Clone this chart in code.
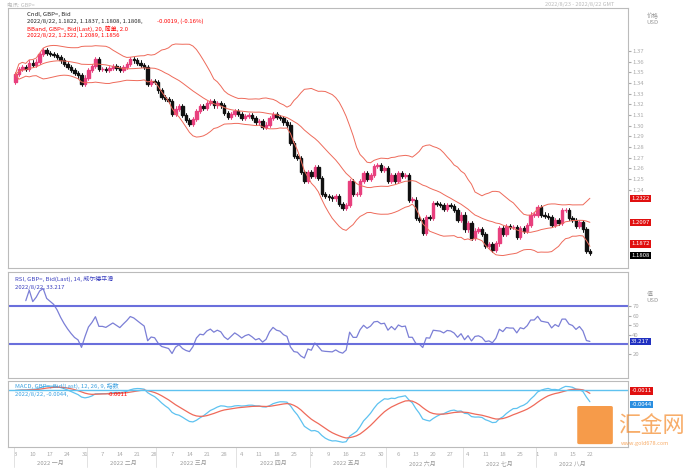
import numpy as np, pandas as pd, matplotlib
matplotlib.use("Agg")
import matplotlib.pyplot as plt, seaborn as sns
from matplotlib.patches import Rectangle, FancyBboxPatch

sns.set_style("white")
plt.rcParams['font.family'] = ['Noto Sans CJK SC', 'DejaVu Sans']

closes = [1.348,1.353,1.355,1.353,1.359,1.357,1.360,1.367,1.371,1.368,1.367,1.366,1.364,1.361,1.358,1.355,1.352,1.349,1.347,1.339,1.345,
          1.352,1.356,1.362,1.353,1.353,1.352,1.354,1.356,1.354,1.352,1.355,1.358,1.362,1.361,1.359,1.357,1.355,1.339,1.342,1.341,
          1.333,1.327,1.325,1.323,1.311,1.316,1.318,1.310,1.305,1.302,1.306,1.314,1.318,1.317,1.321,1.323,1.319,1.321,1.319,1.312,1.308,1.311,1.314,
          1.311,1.307,1.309,1.310,1.307,1.303,1.304,1.299,1.301,1.307,1.311,1.308,1.307,1.303,1.301,1.284,1.272,1.270,1.257,1.248,1.257,
          1.253,1.261,1.251,1.236,1.234,1.233,1.232,1.234,1.227,1.223,1.226,1.248,1.236,1.236,1.248,1.256,1.250,1.254,1.262,1.263,1.259,1.260,
          1.248,1.254,1.248,1.256,1.253,1.254,1.231,1.231,1.214,1.212,1.200,1.215,1.214,1.228,1.227,1.226,1.222,1.226,1.225,1.221,1.212,1.217,
          1.203,1.209,1.195,1.202,1.203,1.199,1.188,1.189,1.184,1.190,1.204,1.199,1.206,1.205,1.205,1.196,1.204,1.202,1.207,1.217,1.217,
          1.224,1.217,1.216,1.215,1.207,1.212,1.209,1.221,1.221,1.214,1.212,1.206,1.210,1.203,1.183,1.1808]
first_open = 1.341
month_labels = ["2022 一月","2022 二月","2022 三月","2022 四月","2022 五月","2022 六月","2022 七月","2022 八月"]
price_ticks = [1.24,1.25,1.26,1.27,1.28,1.29,1.30,1.31,1.32,1.33,1.34,1.35,1.36,1.37]
rsi_levels = [30, 70]

dates = pd.bdate_range("2022-01-03", "2022-08-22")
df = pd.DataFrame({"date": dates, "close": closes})
df["open"] = [first_open] + closes[:-1]
df["high"] = df[["open","close"]].max(axis=1) + 0.002
df["low"] = df[["open","close"]].min(axis=1) - 0.002
df["x"] = np.arange(len(df))
mid = df.close.rolling(20, min_periods=1).mean()
sd = df.close.rolling(20, min_periods=2).std().fillna(0)
df["mid"], df["up"], df["dn"] = mid, mid + 2*sd, mid - 2*sd
d = df.close.diff().fillna(0)
g = d.clip(lower=0).ewm(alpha=1/14).mean(); l = (-d.clip(upper=0)).ewm(alpha=1/14).mean()
df["rsi"] = 100 - 100/(1 + g/l.replace(0, 1e-9))
df.loc[:2, "rsi"] = np.nan
df["macd"] = df.close.ewm(span=12).mean() - df.close.ewm(span=26).mean()
df["sig"] = df.macd.ewm(span=9).mean()

fig = plt.figure(figsize=(6.98, 4.71), dpi=100)
L, R = 0.012, 0.9
ax1 = fig.add_axes([L, 0.431, R-L, 0.552])
ax2 = fig.add_axes([L, 0.197, R-L, 0.225])
ax3 = fig.add_axes([L, 0.05, R-L, 0.141])
xl = (-2, len(df)+10)
UP, DN, BB = "#e8407e", "#111111", "#ee6a5a"

for _, r in df.iterrows():
    c = UP if r.close >= r.open else DN
    ax1.plot([r.x, r.x], [r.low, r.high], color=c, lw=0.7)
    ax1.add_patch(Rectangle((r.x-0.35, min(r.open, r.close)), 0.7, max(abs(r.close-r.open), 0.0004), color=c))
for col in ["up", "mid", "dn"]:
    sns.lineplot(data=df, x="x", y=col, ax=ax1, color=BB, lw=0.7)
ax1.set_ylim(1.167, 1.41); ax1.set_xlim(*xl)
ax1.yaxis.tick_right(); ax1.set_yticks(price_ticks)
ax1.set_yticklabels([f"{t:.2f}" for t in price_ticks])
fs = 4.3
ax1.text(0.03, 0.985, "Cndl, GBP=, Bid", transform=ax1.transAxes, fontsize=fs, va="top")
ax1.text(0.03, 0.958, "2022/8/22, 1.1822, 1.1837, 1.1808, 1.1808,", transform=ax1.transAxes, fontsize=fs, va="top")
ax1.text(0.24, 0.958, "-0.0019, (-0.16%)", transform=ax1.transAxes, fontsize=fs, va="top", color="red")
ax1.text(0.03, 0.931, "BBand, GBP=, Bid(Last), 20, 简单, 2.0", transform=ax1.transAxes, fontsize=fs, va="top", color="red")
ax1.text(0.03, 0.904, "2022/8/22, 1.2322, 1.2089, 1.1856", transform=ax1.transAxes, fontsize=fs, va="top", color="red")
last = df.iloc[-1]
for v, fc, va in [(last.up, "#e01010", "center"), (last.mid, "#e01010", "center"), (last.dn, "#e01010", "bottom"), (last.close, "black", "top")]:
    ax1.text(1.005, v, f"{v:.4f}", transform=ax1.get_yaxis_transform(), fontsize=fs, color="white",
             va=va, bbox=dict(boxstyle="square,pad=0.2", fc=fc, ec="none"))
ax1.text(1.03, 0.94, "价格\nUSD", transform=ax1.transAxes, fontsize=fs, color="#999")

sns.lineplot(data=df, x="x", y="rsi", ax=ax2, color="#7b7fd6", lw=0.9)
for lv in rsi_levels:
    ax2.axhline(lv, color="#6a6fdc", lw=1.5)
ax2.set_ylim(-5, 105); ax2.set_xlim(*xl); ax2.yaxis.tick_right()
ax2.set_yticks([20, 40, 50, 60, 70])
ax2.text(0.01, 0.97, "RSI, GBP=, Bid(Last), 14, 威尔德平滑", transform=ax2.transAxes, fontsize=fs, va="top", color="#3a3fc0")
ax2.text(0.01, 0.88, f"2022/8/22, {last.rsi:.3f}", transform=ax2.transAxes, fontsize=fs, va="top", color="#3a3fc0")
ax2.text(1.005, last.rsi, f"{last.rsi:.3f}", transform=ax2.get_yaxis_transform(), fontsize=fs, color="white",
         va="center", bbox=dict(boxstyle="square,pad=0.2", fc="#2030c0", ec="none"))
ax2.text(1.03, 0.72, "值\nUSD", transform=ax2.transAxes, fontsize=fs, color="#999")

sns.lineplot(data=df, x="x", y="macd", ax=ax3, color="#5ec2f0", lw=0.9)
sns.lineplot(data=df, x="x", y="sig", ax=ax3, color="#ef6a5a", lw=0.9)
ax3.axhline(0, color="#5ec2f0", lw=1)
ax3.set_xlim(*xl); ax3.yaxis.tick_right(); ax3.set_yticks([])
ax3.set_ylim(df.macd.min()*1.1, df.macd.max()*2.2)
ax3.text(0.01, 0.97, "MACD, GBP=, Bid(Last), 12, 26, 9, 指数", transform=ax3.transAxes, fontsize=fs, va="top", color="#3aa0e0")
ax3.text(0.01, 0.84, f"2022/8/22, {last.macd:.4f},", transform=ax3.transAxes, fontsize=fs, va="top", color="#3aa0e0")
ax3.text(0.16, 0.84, f"{last.sig:.4f}", transform=ax3.transAxes, fontsize=fs, va="top", color="red")
ax3.text(1.005, last.sig, f"{last.sig:.4f}", transform=ax3.get_yaxis_transform(), fontsize=fs, color="white",
         va="bottom", bbox=dict(boxstyle="square,pad=0.2", fc="#e01010", ec="none"))
ax3.text(1.005, last.macd, f"{last.macd:.4f}", transform=ax3.get_yaxis_transform(), fontsize=fs, color="white",
         va="top", bbox=dict(boxstyle="square,pad=0.2", fc="#2a8ee0", ec="none"))

for ax in (ax1, ax2, ax3):
    ax.set_xlabel(""); ax.set_ylabel("")
    ax.tick_params(labelsize=fs, colors="#aaa", length=2, pad=1)
    for s in ax.spines.values():
        s.set_color("#bbbbbb")
for ax in (ax1, ax2):
    ax.set_xticks([])
ms = [i for i in range(len(df)) if i == 0 or df.date[i].month != df.date[i-1].month]
wk = [i for i in range(len(df)) if df.date[i].weekday() == 0]
ax3.set_xticks(wk); ax3.set_xticklabels([str(df.date[i].day) for i in wk])
for m, lab in zip(ms, month_labels):
    ax3.text(m + 10, -0.2, lab, transform=ax3.get_xaxis_transform(), fontsize=fs, color="#999", ha="center", va="top")
    ax3.axvline(m - 0.5, ymin=-0.3, ymax=0, color="#ddd", lw=0.6, clip_on=False)
fig.text(0.01, 0.996, "电讯: GBP=", fontsize=4, color="#bbb", va="top")
fig.text(0.88, 0.996, "2022/8/23 - 2022/8/22 GMT", fontsize=4, color="#bbb", va="top", ha="right")
fig.patches.append(FancyBboxPatch((0.83, 0.06), 0.045, 0.075, boxstyle="round,pad=0.003",
                                  transform=fig.transFigure, fc="#f58a2a", ec="none", alpha=0.85))
fig.text(0.885, 0.097, "汇金网", fontsize=16, color="#f58a2a", alpha=0.7, va="center")
fig.text(0.89, 0.055, "www.gold678.com", fontsize=4, color="#f58a2a", alpha=0.7)
fig.savefig("out.png", dpi=100)
